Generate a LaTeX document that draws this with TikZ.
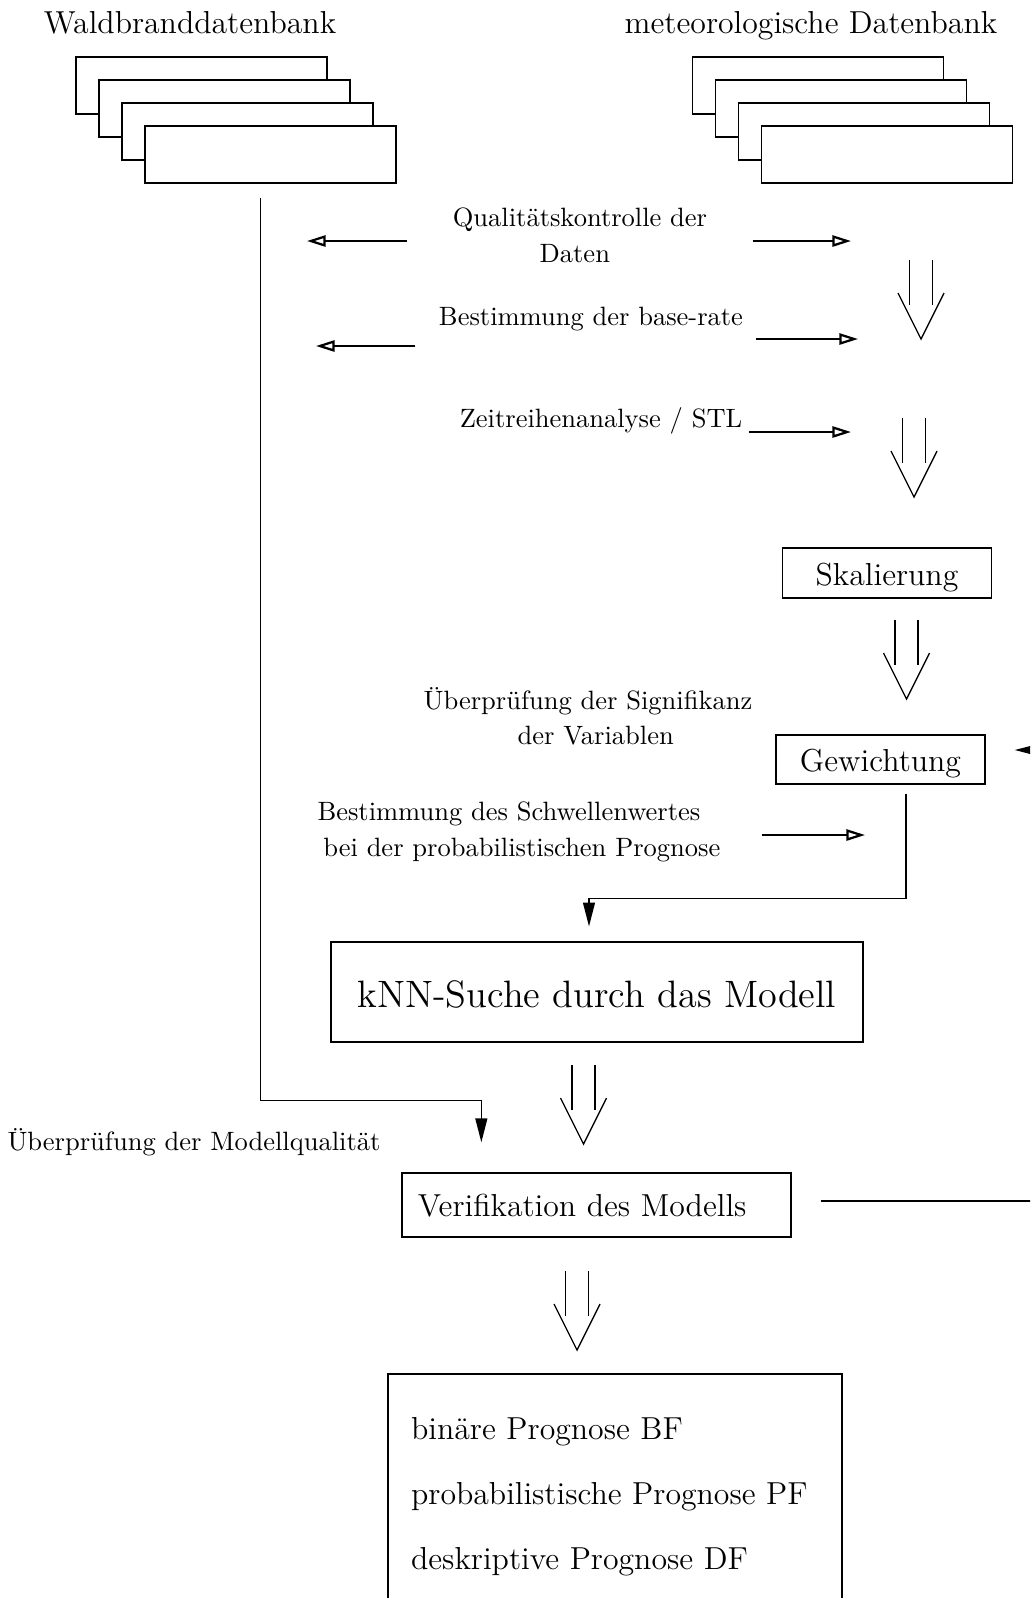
\documentclass[tikz,border=0pt]{standalone}
\usepackage{tikz}
\usetikzlibrary{arrows.meta}
\usetikzlibrary{calc}

\tikzset{
	stackbox/.style={draw, fill=white, line width=0.5pt, minimum width=94.7pt, minimum height=21.5pt, inner sep=0pt},
	stepbox/.style={draw, line width=0.5pt, inner sep=0pt, font=\large, text height=11.4pt, text depth=2.3pt},
	hint/.style={inner sep=0pt, align=center},
	openarr/.style={line width=0.85pt, -{Triangle[open, length=7pt, width=4.2pt]}},
	fillarr/.style={line width=0.5pt, -{Triangle[length=9pt, width=4.5pt]}},
	dblarrow/.pic={
		\draw[line width=0.5pt] (-11.5,0) -- (-11.5,45) (11.5,0) -- (11.5,45);
		\draw[line width=0.5pt] (-23,33) -- (0,79) -- (23,33);
	}
}

\begin{document}
\begin{tikzpicture}[x=0.3774pt, y=-0.3774pt]
	\useasboundingbox (0,0) rectangle (1030,1598);
	\clip (0,0) rectangle (1030,1598);

	% Databases:
	\node[font=\large, anchor=base] (wbtitle) at (190,33) {Waldbranddatenbank};
	\node[font=\large, anchor=base] (mdtitle) at (811,33) {meteorologische Datenbank};
	\foreach \i in {0,...,3} {
		\node[stackbox] (wb\i) at (201.5+23*\i, 85.5+23*\i) {};
		\node[stackbox] (md\i) at (818+23*\i, 85.5+23*\i) {};
	}

	% Preparation steps:
	\node[hint, font=\fontsize{10}{13.6}\selectfont] (qual) at (580,235) {Qualitätskontrolle der\\Daten\hspace*{3.9pt}};
	\coordinate (qualL) at (307,241);
	\coordinate (qualR) at (851,241);
	\draw[openarr] ($(qual.west |- qualL)+(-45,0)$) -- (qualL);
	\draw[openarr] ($(qual.east |- qualR)+(45,0)$) -- (qualR);
	\pic at (921,260) {dblarrow};

	\node[hint] (baserate) at (591,319) {Bestimmung der base-rate};
	\coordinate (baseL) at (316,346);
	\coordinate (baseR) at (858,339);
	\draw[openarr] ($(baserate.west |- baseL)+(-23,0)$) -- (baseL);
	\draw[openarr] ($(baserate.east |- baseR)+(12,0)$) -- (baseR);

	\node[hint] (zeit) at (601,421) {Zeitreihenanalyse / STL};
	\coordinate (zeitR) at (851,432);
	\draw[openarr] ($(zeit.east |- zeitR)+(6,0)$) -- (zeitR);
	\pic at (914,418) {dblarrow};

	\node[stepbox, minimum width=78.9pt, minimum height=18.9pt] (skal) at (887,573) {Skalierung};
	\pic at (906.5,620) {dblarrow};

	\node[hint, font=\fontsize{10}{13.2}\selectfont] (signif) at (588,716) {Überprüfung der Signifikanz\\\hspace*{5.8pt}der Variablen};
	\node[stepbox, minimum width=78.9pt, minimum height=18.5pt] (gew) at (880.5,759.5) {Gewichtung};

	\node[hint, align=left, anchor=west, font=\fontsize{10}{13.6}\selectfont] (schwelle) at (317,832) {Bestimmung des Schwellenwertes\\\hspace*{2.2pt}bei der probabilistischen Prognose};
	\coordinate (schwR) at (865,835);
	\draw[openarr] ($(schwelle.east |- schwR)+(41,0)$) -- (schwR);

	% Model and verification:
	\node[stepbox, font=\Large, text height=14.6pt, text depth=2.8pt, minimum width=200.8pt, minimum height=37.7pt] (knn) at (597,992) {kNN-Suche durch das Modell};
	\draw[fillarr] ($(gew.south)+(25.5,9)$) |- ($(knn.north)+(-8,-43)$) -- ($(knn.north)+(-8,-15)$);
	\pic at (583.5,1065) {dblarrow};

	\node[stepbox, text height=11.1pt, inner xsep=6pt, text width=134.8pt, align=left, minimum height=24.2pt] (verif) at (596.5,1205) {Verifikation des Modells};
	\node[hint] (mqual) at (194,1142) {Überprüfung der Modellqualität};
	\draw[fillarr] ($(wb3.south)+(-10,14)$) |- ($(verif.north west)+(80,-72)$) -- ($(verif.north west)+(80,-30)$);
	\draw[fillarr] ($(verif.east)+(29,-4)$) -| (1080,1000) |- ($(gew.east)+(29,-9.5)$);
	\pic at (577,1271) {dblarrow};

	% Forecasts:
	\node[stepbox, font=\fontsize{12}{24.5}\selectfont, text height=, text depth=, inner xsep=8.7pt, text width=153.9pt, align=left, minimum height=92.9pt] (result) at (615,1497) {binäre Prognose BF\\probabilistische Prognose PF\\deskriptive Prognose DF};
\end{tikzpicture}
\end{document}
